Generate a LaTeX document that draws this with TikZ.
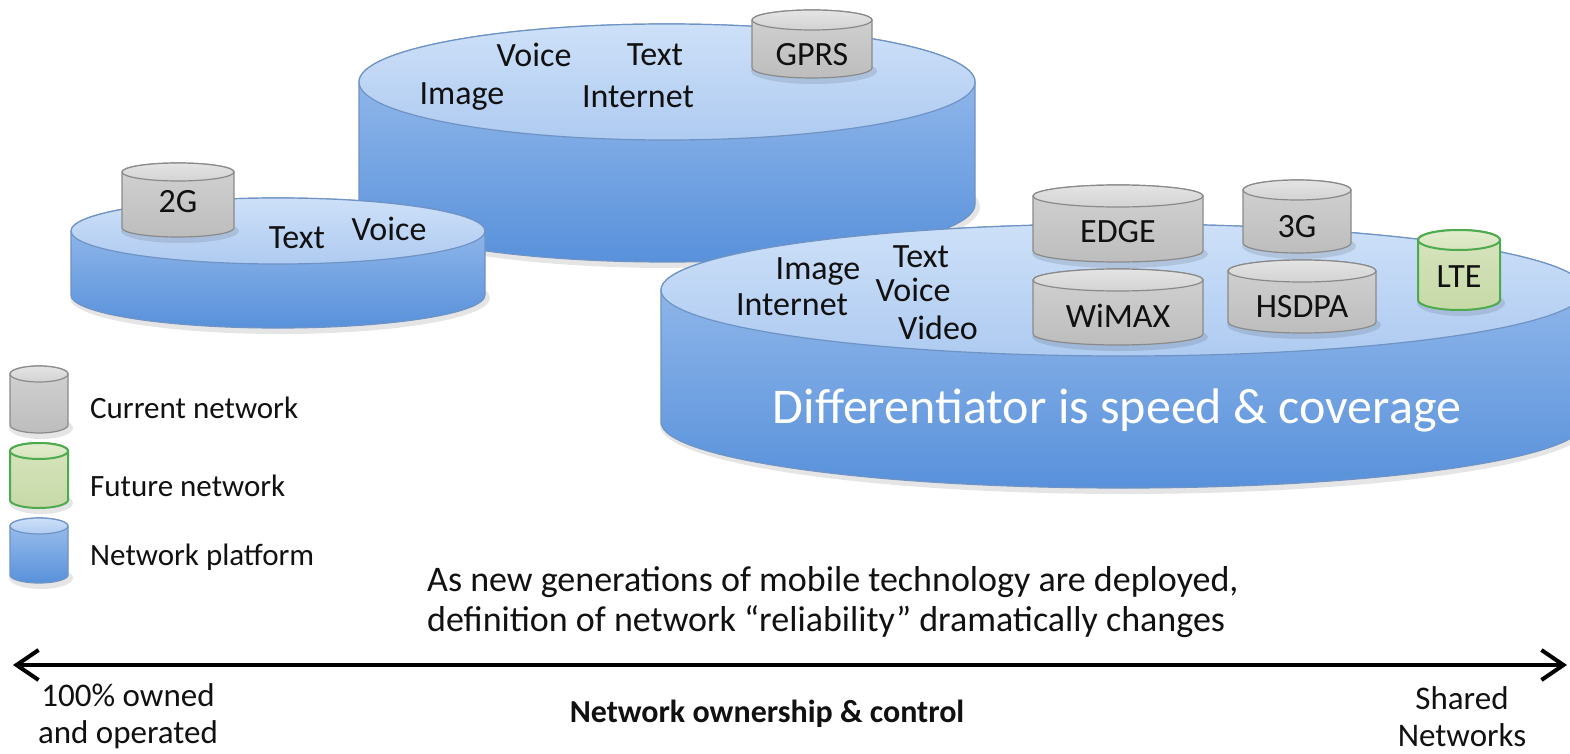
\documentclass[tikz,border=0pt]{standalone}
\usepackage{fontspec}
\setmainfont{Carlito}
\usetikzlibrary{arrows.meta}
\definecolor{bluetopA}{HTML}{CDE0F8}
\definecolor{bluetopB}{HTML}{AFCBF1}
\definecolor{bluesideA}{HTML}{A0C1EE}
\definecolor{bluesideB}{HTML}{5891DB}
\definecolor{blueline}{HTML}{6E93C4}
\definecolor{graytopA}{HTML}{E4E4E4}
\definecolor{graytopB}{HTML}{D3D3D3}
\definecolor{graysideA}{HTML}{D2D2D2}
\definecolor{graysideB}{HTML}{BDBDBD}
\definecolor{grayline}{HTML}{8A8A8A}
\definecolor{greentopA}{HTML}{E3EDCF}
\definecolor{greentopB}{HTML}{D6E4BC}
\definecolor{greensideA}{HTML}{D8E5BF}
\definecolor{greensideB}{HTML}{C6D9A6}
\definecolor{greenline}{HTML}{4EAA4E}
\definecolor{txt}{HTML}{111111}
\tikzset{
  blueside/.style={top color=bluesideA,bottom color=bluesideB,draw=blueline,line width=1.2pt},
  bluetop/.style={top color=bluetopA,bottom color=bluetopB,draw=blueline,line width=1.2pt},
  grayside/.style={top color=graysideA,bottom color=graysideB,draw=grayline,line width=1.2pt},
  graytop/.style={top color=graytopA,bottom color=graytopB,draw=grayline,line width=1.2pt},
  greenside/.style={top color=greensideA,bottom color=greensideB,draw=greenline,line width=2pt},
  greentop/.style={top color=greentopA,bottom color=greentopB,draw=greenline,line width=2pt},
  lbl/.style={font=\fontsize{34}{40}\selectfont,text=txt,inner sep=0pt},
  legtxt/.style={font=\fontsize{31}{36}\selectfont,text=txt,inner sep=0pt,anchor=west},
  sent/.style={font=\fontsize{36}{42}\selectfont,text=txt,inner sep=0pt,anchor=west},
  axtxt/.style={font=\fontsize{33}{37}\selectfont,text=txt,inner sep=0pt,align=center},
  mybarb/.tip={Straight Barb[length=22pt,width=30pt,line width=4pt]},
}
% cx, ty (image y), rx, ry, h, kind
\newcommand{\mycyl}[6]{%
\begin{scope}[shift={(#1,-#2)}]
\fill[black,opacity=0.10] (2,-#5-3) ellipse[x radius=#3+3,y radius=#4+3];
\shadedraw[#6side] (-#3,0) -- (-#3,-#5) arc[start angle=180,end angle=360,x radius=#3,y radius=#4] -- (#3,0) arc[start angle=0,end angle=180,x radius=#3,y radius=#4] -- cycle;
\shadedraw[#6top] (0,0) ellipse[x radius=#3,y radius=#4];
\end{scope}}
\begin{document}
\begin{tikzpicture}[x=1pt,y=1pt]
\useasboundingbox (0,0) rectangle (1570,-754);
\fill[white] (0,0) rectangle (1570,-754);
\clip (0,0) rectangle (1570,-754);

% top platform
\mycyl{667}{82}{308}{58}{122}{blue}
\mycyl{812}{20}{60}{10}{48}{gray}
\node[lbl] (t1) at (534,-55) {Voice};
\node[lbl] (t2) at (655,-55) {Text};
\node[lbl] (t3) at (462,-97) {Image};
\node[lbl] (t4) at (638,-97) {Internet};
\node[lbl] (gprs) at (812,-55) {GPRS};

% 2G platform
\mycyl{278}{231}{207}{33}{64}{blue}
\mycyl{178}{172}{56}{9}{56}{gray}
\node[lbl] (g2) at (178,-202) {2G};
\node[lbl] (p1) at (297,-238) {Text};
\node[lbl] (p2) at (389,-229) {Voice};

% right platform
\mycyl{1123}{290}{462}{66}{132}{blue}
\mycyl{1118}{196}{85}{11}{55}{gray}
\mycyl{1297}{190}{54}{10}{53}{gray}
\mycyl{1459}{240}{41}{10}{60}{green}
\mycyl{1118}{280}{85}{11}{54}{gray}
\mycyl{1302}{271}{74}{11}{51}{gray}
\node[lbl] (edge) at (1118,-232) {EDGE};
\node[lbl] (g3) at (1297,-227) {3G};
\node[lbl] (lte) at (1459,-277) {LTE};
\node[lbl] (wimax) at (1118,-316) {WiMAX};
\node[lbl] (hsdpa) at (1302,-307) {HSDPA};
\node[lbl] (r1) at (818,-272) {Image};
\node[lbl] (r2) at (921,-257) {Text};
\node[lbl] (r3) at (913,-290) {Voice};
\node[lbl] (r4) at (792,-305) {Internet};
\node[lbl] (r5) at (938,-328) {Video};
\node[font=\fontsize{50}{58}\selectfont,text=white,inner sep=0pt] (diff) at (1117,-410) {Differentiator is speed \& coverage};

% legend
\mycyl{39}{374}{29}{8}{51}{gray}
\mycyl{39}{451}{29}{8}{49}{green}
\mycyl{39}{526}{29}{8}{49}{blue}
\node[legtxt] (l1) at (90,-408) {Current network};
\node[legtxt] (l2) at (90,-486) {Future network};
\node[legtxt] (l3) at (90,-557) {Network platform};

% sentence
\node[sent] (s1) at (427,-582) {As new generations of mobile technology are deployed,};
\node[sent] (s2) at (427,-622) {definition of network “reliability” dramatically changes};

% axis
\coordinate (aL) at (13,-665);
\coordinate (aR) at (1567,-665);
\draw[line width=4pt,{mybarb}-{mybarb}] (aL) -- (aR);
\node[axtxt] (x1) at (128,-716) {100\% owned\\and operated};
\node[axtxt,font=\bfseries\fontsize{32}{38}\selectfont] (x2) at (767,-714) {Network ownership \& control};
\node[axtxt] (x3) at (1462,-717) {Shared\\Networks};
\end{tikzpicture}
\end{document}
